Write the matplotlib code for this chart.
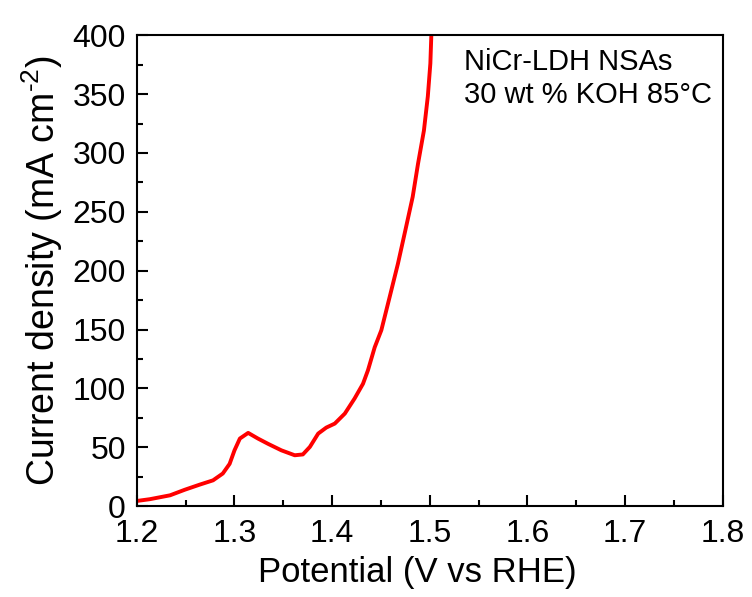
import matplotlib.pyplot as plt
from matplotlib.ticker import MultipleLocator

plt.rcParams['font.family'] = ['Liberation Sans', 'DejaVu Sans']
plt.rcParams['mathtext.fontset'] = 'custom'
plt.rcParams['mathtext.rm'] = 'Liberation Sans'

# polarization curve (LSV), potential in V vs RHE, current density in mA cm-2
potential = [1.2000, 1.2133, 1.2340, 1.2490, 1.2645, 1.2780, 1.2880, 1.2950,
             1.3000, 1.3055, 1.3140, 1.3240, 1.3344, 1.3480, 1.3617, 1.3700,
             1.3772, 1.3857, 1.3940, 1.4027, 1.4130, 1.4230, 1.4316, 1.4367,
             1.4436, 1.4504, 1.4590, 1.4674, 1.4749, 1.4825, 1.4880, 1.4940,
             1.4980, 1.5006, 1.5016]
current = [4.5, 6.0, 9.3, 14.0, 18.4, 22.0, 27.8, 36.0,
           47.5, 57.5, 62.3, 57.5, 53.0, 47.5, 43.3, 44.0,
           50.4, 61.7, 66.8, 70.2, 78.7, 91.5, 104.0, 115.5,
           135.0, 149.5, 178.0, 206.0, 234.0, 262.7, 291.0, 319.0,
           348.0, 376.0, 400.0]

xticks = [1.2, 1.3, 1.4, 1.5, 1.6, 1.7, 1.8]
yticks = [0, 50, 100, 150, 200, 250, 300, 350, 400]

fig = plt.figure(figsize=(7.52, 5.97), dpi=100)
ax = fig.add_axes([0.182, 0.152, 0.779, 0.789])

ax.plot(potential, current, color='#ff0000', lw=2.8,
        solid_capstyle='round', solid_joinstyle='round')

ax.set_xlim(1.2, 1.8)
ax.set_ylim(0, 400)
ax.set_xticks(xticks)
ax.set_yticks(yticks)
ax.set_xticklabels(['{:.1f}'.format(v) for v in xticks])
ax.xaxis.set_minor_locator(MultipleLocator(0.05))
ax.yaxis.set_minor_locator(MultipleLocator(25))
ax.tick_params(which='major', direction='in', length=8, width=1.5, labelsize=23)
ax.tick_params(axis='x', which='major', pad=9)
ax.tick_params(axis='y', which='major', pad=8)
ax.tick_params(which='minor', direction='in', length=4, width=1.5)
for s in ax.spines.values():
    s.set_linewidth(1.5)

ax.set_xlabel('Potential (V vs RHE)', fontsize=25)
ax.xaxis.set_label_coords(0.478, -0.105)
ax.set_ylabel(r'Current density (mA cm$^{\text{-2}}$)', fontsize=27, labelpad=5)

ax.text(0.558, 0.972, 'NiCr-LDH NSAs\n30 wt % KOH 85°C', transform=ax.transAxes,
        fontsize=21, va='top', ha='left', linespacing=1.2)

plt.savefig('out.png', dpi=100)
